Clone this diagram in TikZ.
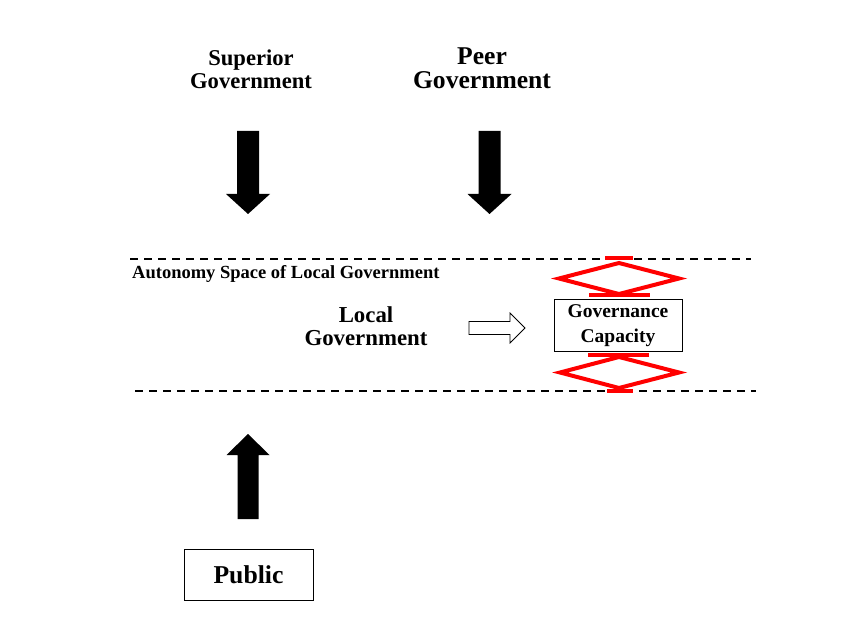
\documentclass[tikz,border=0pt]{standalone}
\usepackage{fontspec}
\setmainfont{Liberation Serif}
\usetikzlibrary{calc}
\begin{document}
\begin{tikzpicture}[x=1pt,y=-1pt,
  lbl/.style={font=\bfseries, align=center, inner sep=0pt},
  boxed/.style={draw, line width=1pt, inner sep=0pt, font=\bfseries, align=center},
  divider/.style={dashed, line width=1.6pt, dash pattern=on 8pt off 6pt},
  redbar/.style={draw=red, line width=4pt},
  reddiamond/.style={draw=red, line width=4pt, line join=miter},
  bigarrow/.style={fill=black}
]
\useasboundingbox (0,0) rectangle (854,636);

% actors
\node[lbl, font=\fontsize{22.6}{23}\bfseries] (sup) at (251,69) {Superior\\Government};
\node[lbl, font=\fontsize{25.6}{24}\bfseries] (peer) at (482,68) {Peer\\Government};
\node[lbl, font=\fontsize{22.8}{23}\bfseries] (local) at (366,326) {Local\\Government};
\node[boxed, minimum width=128, minimum height=51, font=\fontsize{19.5}{25}\bfseries] (cap) at (618,325.5) {Governance\\Capacity};
\node[boxed, minimum width=129, minimum height=51, font=\fontsize{25.7}{25}\bfseries] (pub) at (248.5,574.5) {Public};
\node[lbl, anchor=west, font=\fontsize{18.5}{20}\bfseries] (auto) at (132,274) {Autonomy Space of Local Government};

% boundaries of the autonomy space
\coordinate (t1) at (130,259); \coordinate (t2) at (751,259);
\coordinate (b1) at (135,391); \coordinate (b2) at (756,391);
\draw[divider] (t1) -- (t2);
\draw[divider] (b1) -- (b2);

% downward pressure from superior and peer governments
\foreach \cx in {248,489.5}{
  \fill[bigarrow] (\cx-11,131) -- (\cx+11,131) -- (\cx+11,194) -- (\cx+22,194)
     -- (\cx,214) -- (\cx-22,194) -- (\cx-11,194) -- cycle;
}

% upward pressure from the public
\fill[bigarrow] (248,434) -- (269.5,455) -- (258.5,455) -- (258.5,519)
   -- (237.5,519) -- (237.5,455) -- (226.5,455) -- cycle;

% hollow arrow towards governance capacity
\draw[line width=0.8pt, fill=white] (469,321.5) -- (510,321.5) -- (510,313) -- (525,328)
   -- (510,343) -- (510,334.5) -- (469,334.5) -- cycle;

% capacity limits (upper and lower)
\draw[redbar] (605,258.5) -- (633,258.5);
\draw[reddiamond] (619,263) -- (679,278.5) -- (619,294) -- (559,278.5) -- cycle;
\draw[redbar] (589,295.5) -- (650,295.5);

\draw[redbar] (588,355) -- (649,355);
\draw[reddiamond] (619,357) -- (679,372.5) -- (619,388) -- (560,372.5) -- cycle;
\draw[redbar] (607,390.5) -- (633,390.5);
\end{tikzpicture}
\end{document}
